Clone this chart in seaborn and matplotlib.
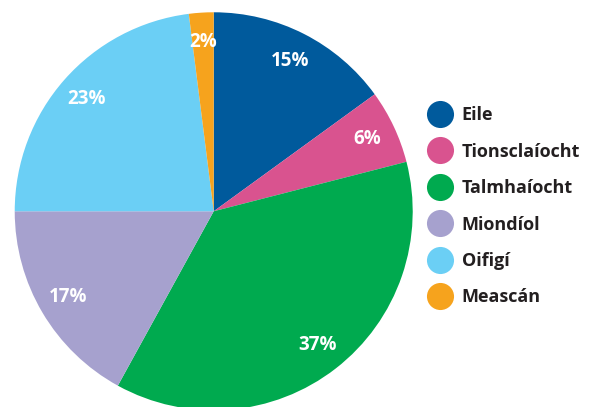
import matplotlib
matplotlib.use("Agg")
import matplotlib.pyplot as plt
from matplotlib.lines import Line2D
import seaborn as sns

# data (clockwise from 12 o'clock)
categories = ['Eile', 'Tionsclaíocht', 'Talmhaíocht', 'Miondíol', 'Oifigí', 'Meascán']
shares = [15, 6, 37, 17, 23, 2]
colours = ['#005a9c', '#d9538f', '#00aa4f', '#a6a1ce', '#6bcff5', '#f6a31d']

sns.set_theme(style='white')
plt.rcParams['font.family'] = ['Open Sans', 'DejaVu Sans']

fig = plt.figure(figsize=(5.89, 4.07), dpi=100)
ax = fig.add_axes([0.025, -0.0081, 0.6757, 0.978])

palette = sns.color_palette(colours)
wedges, texts, autotexts = ax.pie(
    shares, colors=palette, startangle=90, counterclock=False,
    autopct='%d%%', pctdistance=0.85, radius=1,
    textprops=dict(color='white', fontsize=13.5, fontweight='bold'),
    wedgeprops=dict(linewidth=0))
ax.set_xlim(-1, 1)
ax.set_ylim(-1, 1)
ax.set_aspect('equal')
ax.axis('off')

handles = [Line2D([], [], marker='o', linestyle='none', markersize=19.5,
                  markerfacecolor=c, markeredgewidth=0) for c in palette]
leg = fig.legend(handles, categories, loc='center left',
                 bbox_to_anchor=(0.71, 0.493), frameon=False,
                 prop=dict(size=13, weight='bold'), labelspacing=1.02,
                 handletextpad=0.45, handlelength=1.45, borderpad=0)
for t in leg.get_texts():
    t.set_color('#231f20')

fig.savefig('out.png', dpi=100)
